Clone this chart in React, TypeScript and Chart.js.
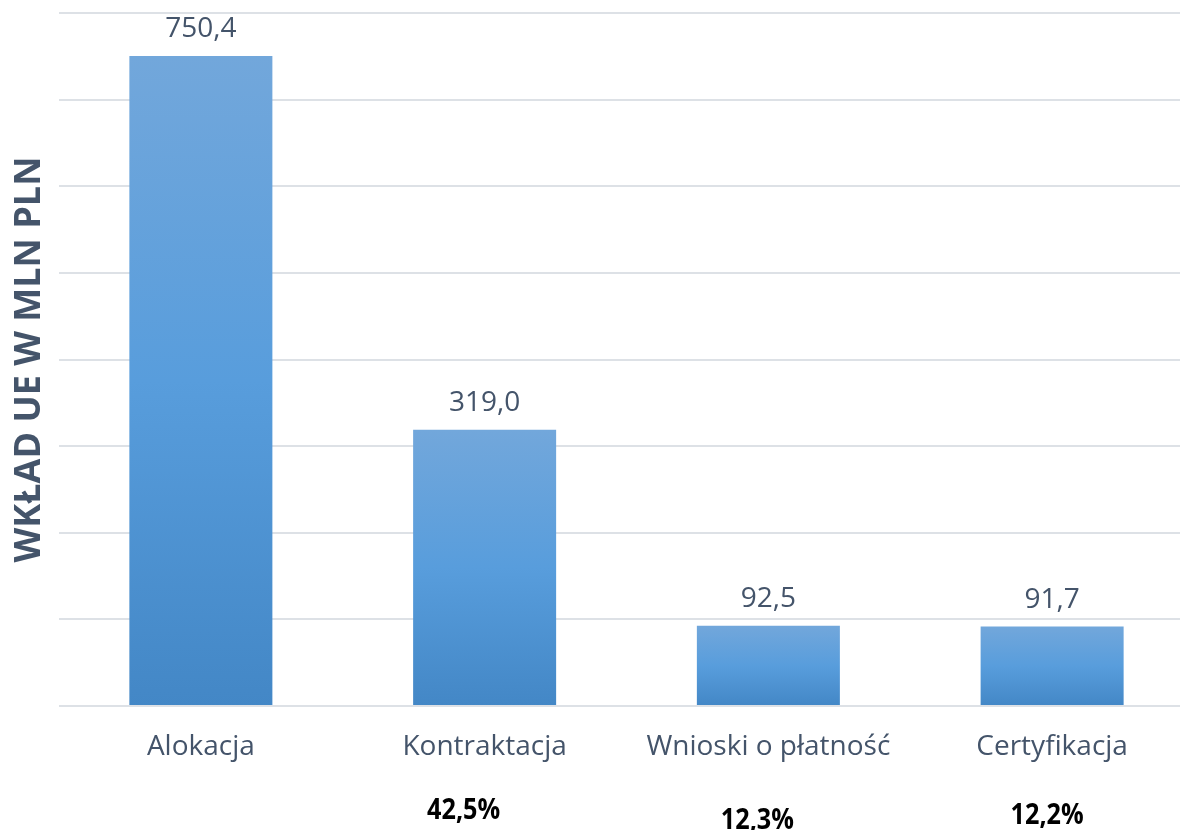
import React, { useEffect, useRef } from "react";
import { Chart, registerables } from "chart.js";

Chart.register(...registerables);

// ---- data ----
const categories = ["Alokacja", "Kontraktacja", "Wnioski o płatność", "Certyfikacja"];
const values = [750.4, 319.0, 92.5, 91.7];
const shareLabels = ["", "42,5%", "12,3%", "12,2%"];
const yMin = 0;
const yMax = 800;
const yStep = 100;
const yAxisTitle = "WKŁAD UE W MLN PLN";

// ---- layout / style (not data) ----
const shareOffsetX = [0, -21, -11, -5];
const shareOffsetY = [0, 105, 115, 110];
const TEXT_COLOR = "#44546A";
const GRID_COLOR = "#DDE1E6";
const FONT = "'Open Sans', 'Noto Sans', sans-serif";

const fmt = (v: number) => v.toFixed(1).replace(".", ",");

export default function App() {
  const canvasRef = useRef<HTMLCanvasElement | null>(null);

  useEffect(() => {
    const canvas = canvasRef.current;
    if (!canvas) return;

    const valueLabelPlugin = {
      id: "valueLabels",
      afterDatasetsDraw(chart: any) {
        const ctx = chart.ctx;
        const meta = chart.getDatasetMeta(0);
        ctx.save();
        ctx.font = `28px ${FONT}`;
        ctx.fillStyle = TEXT_COLOR;
        ctx.textAlign = "center";
        ctx.textBaseline = "alphabetic";
        meta.data.forEach((el: any, i: number) => {
          ctx.fillText(fmt(values[i]), el.x, el.y - 19);
        });
        ctx.restore();
      },
    };

    const shareLabelPlugin = {
      id: "shareLabels",
      afterDraw(chart: any) {
        const ctx = chart.ctx;
        const xs = chart.scales.x;
        const bottom = chart.chartArea.bottom;
        ctx.save();
        ctx.font = `bold 28px ${FONT}`;
        ctx.fillStyle = "#000000";
        ctx.textAlign = "center";
        ctx.textBaseline = "middle";
        shareLabels.forEach((t, i) => {
          if (!t) return;
          const x = xs.getPixelForValue(i) + shareOffsetX[i];
          const y = bottom + shareOffsetY[i];
          ctx.save();
          ctx.translate(x, y);
          ctx.scale(0.9, 1);
          ctx.fillText(t, 0, 0);
          ctx.restore();
        });
        ctx.restore();
      },
    };

    const chart = new Chart(canvas, {
      type: "bar",
      data: {
        labels: categories,
        datasets: [
          {
            data: values,
            categoryPercentage: 1,
            barPercentage: 0.504,
            borderWidth: 0,
            backgroundColor: (c: any) => {
              const ch = c.chart;
              if (!ch.chartArea || c.type !== "data") return "#5B9BD5";
              const ys = ch.scales.y;
              const top = ys.getPixelForValue(values[c.dataIndex]);
              const base = ys.getPixelForValue(0);
              const g = ch.ctx.createLinearGradient(0, top, 0, base);
              g.addColorStop(0, "#72A7DB");
              g.addColorStop(0.5, "#589DDC");
              g.addColorStop(1, "#4387C6");
              return g;
            },
          },
        ],
      },
      options: {
        animation: false,
        responsive: false,
        devicePixelRatio: 1,
        layout: { padding: { top: 13, right: 6, bottom: 0, left: 0 } },
        plugins: {
          legend: { display: false },
          tooltip: { enabled: false },
        },
        scales: {
          x: {
            grid: { display: false, drawTicks: false },
            border: { display: false },
            ticks: {
              color: TEXT_COLOR,
              font: { family: FONT, size: 28 },
              padding: 24,
              maxRotation: 0,
              autoSkip: false,
            },
            afterFit: (s: any) => {
              s.height = 124;
            },
          },
          y: {
            min: yMin,
            max: yMax,
            ticks: { display: false, stepSize: yStep },
            grid: { color: GRID_COLOR, lineWidth: 2, drawTicks: false },
            border: { display: false },
            title: {
              display: true,
              text: yAxisTitle,
              color: TEXT_COLOR,
              font: { family: FONT, size: 36, weight: "bold" },
              padding: { top: 8, bottom: 8 },
            },
            afterFit: (s: any) => {
              s.width = 59;
            },
          },
        },
      },
      plugins: [valueLabelPlugin, shareLabelPlugin],
    });

    return () => chart.destroy();
  }, []);

  return (
    <div
      style={{
        position: "absolute",
        left: 0,
        top: 0,
        width: 1180,
        height: 830,
        overflow: "hidden",
        background: "#ffffff",
      }}
    >
      <canvas ref={canvasRef} width={1200} height={830} style={{ display: "block" }} />
    </div>
  );
}
